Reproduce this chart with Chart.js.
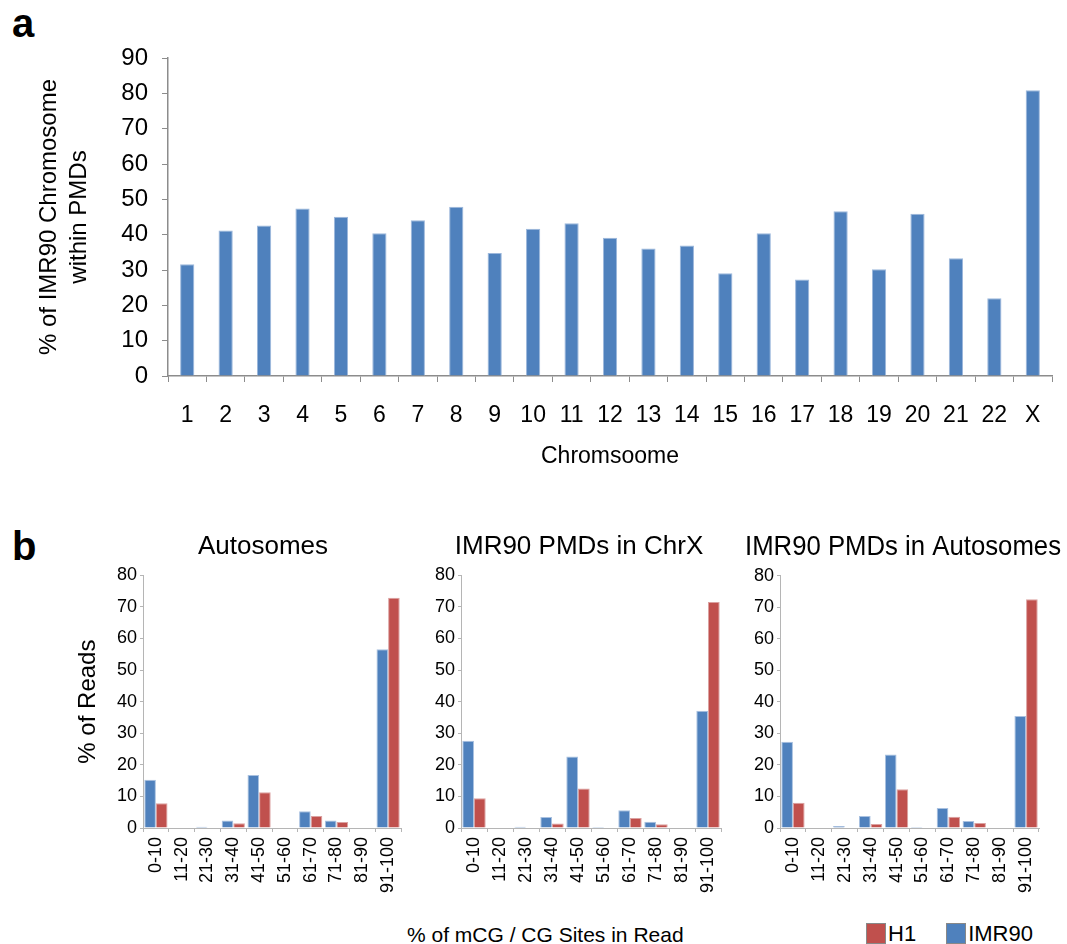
<!DOCTYPE html>
<html>
<head>
<meta charset="utf-8">
<script src="https://cdn.jsdelivr.net/npm/chart.js@4.4.1/dist/chart.umd.min.js"></script>
<style>
    body { margin: 0; background: #fff; width: 1067px; height: 944px; position: relative; overflow: hidden; font-family: "Liberation Sans", Arial, sans-serif; color: #000; }
    .box { position: absolute; }
    .panel { position: absolute; font-weight: bold; font-size: 40px; line-height: 40px; }
    .xtitle { position: absolute; left: 407px; top: 923px; font-size: 21px; line-height: 24px; }
    .legend { position: absolute; left: 866px; top: 922px; font-size: 22px; line-height: 23px; display: flex; align-items: center; }
    .swatch { width: 20px; height: 21px; margin-right: 2px; box-sizing: border-box; border: 1px solid #888; }
</style>
</head>
<body>

<div class="panel" style="left:12px; top:3px">a</div>
<div class="panel" style="left:12px; top:526px">b</div>

<div class="box" style="left:0; top:0; width:1067px; height:480px"><canvas id="chrChart"></canvas></div>
<div class="box" style="left:60px; top:520px; width:406px; height:380px"><canvas id="autoChart"></canvas></div>
<div class="box" style="left:410px; top:520px; width:338px; height:380px"><canvas id="chrxChart"></canvas></div>
<div class="box" style="left:745px; top:520px; width:316px; height:380px"><canvas id="pmdAutoChart"></canvas></div>

<div class="xtitle">% of mCG / CG Sites in Read</div>
<div class="legend">
    <span class="swatch" style="background:#C0504D"></span><span style="margin-right:30px">H1</span>
    <span class="swatch" style="background:#4F81BD"></span><span>IMR90</span>
</div>

<script>
const chromosomes = ['1', '2', '3', '4', '5', '6', '7', '8', '9', '10', '11', '12', '13', '14', '15', '16', '17', '18', '19', '20', '21', '22', 'X']
const pmdPercent = [31.6, 41.2, 42.6, 47.4, 45.1, 40.4, 44.1, 47.9, 34.8, 41.7, 43.2, 39.1, 36.1, 36.9, 29.1, 40.4, 27.3, 46.6, 30.2, 45.9, 33.3, 22.0, 80.9]

const bins = ['0-10', '11-20', '21-30', '31-40', '41-50', '51-60', '61-70', '71-80', '81-90', '91-100']
const autoIMR90 = [15.3, 0, 0.4, 2.4, 16.8, 0, 5.3, 2.4, 0, 56.6]
const autoH1 = [7.8, 0, 0, 1.5, 11.3, 0, 3.8, 1.9, 0, 72.9]
const chrxIMR90 = [27.6, 0, 0.4, 3.5, 22.6, 0.3, 5.6, 2.0, 0, 37.1]
const chrxH1 = [9.4, 0, 0, 1.4, 12.5, 0, 3.2, 1.2, 0, 71.5]
const pmdAutoIMR90 = [27.3, 0, 0.6, 3.8, 23.3, 0.3, 6.3, 2.2, 0, 35.5]
const pmdAutoH1 = [8.0, 0, 0, 1.3, 12.3, 0, 3.6, 1.6, 0, 72.5]

const blue = '#4F81BD'
const red = '#C0504D'
const axisGray = '#8c8c8c'
const fontFamily = '"Liberation Sans", Arial, Helvetica, sans-serif'

Chart.defaults.font.family = fontFamily
Chart.defaults.color = '#000'
Chart.defaults.animation = false

// panel a
const chrCtx = document.getElementById('chrChart').getContext('2d')
const chrChart = new Chart(chrCtx, {
    type: 'bar',
    data: {
        labels: chromosomes,
        datasets: [{
            label: '% within PMDs',
            data: pmdPercent,
            backgroundColor: blue,
            borderColor: '#9db8dc',
            borderWidth: 1,
            categoryPercentage: 1,
            barPercentage: 0.37
        }]
    },
    options: {
        responsive: true,
        maintainAspectRatio: false,
        layout: { padding: { top: 58, right: 15, left: 0, bottom: 0 } },
        plugins: { legend: { display: false }, tooltip: { enabled: false } },
        scales: {
            x: {
                afterFit: (scale) => { scale.height = 104 },
                grid: { display: true, offset: true, drawOnChartArea: false, tickLength: 6, color: axisGray },
                border: { color: axisGray, width: 1.5 },
                ticks: { font: { size: 23 }, padding: 20, maxRotation: 0, autoSkip: false },
                title: { display: true, text: 'Chromsoome', font: { size: 23 }, padding: { top: 0, bottom: 10 } }
            },
            y: {
                min: 0,
                max: 90,
                afterFit: (scale) => { scale.width = 168 },
                grid: { display: true, drawOnChartArea: false, tickLength: 6, color: axisGray },
                border: { color: axisGray, width: 1.5 },
                ticks: { stepSize: 10, font: { size: 24 }, padding: 14 },
                title: {
                    display: true,
                    text: ['% of IMR90 Chromosome', 'within PMDs'],
                    font: { size: 24, lineHeight: 1.25 },
                    padding: { top: 34, bottom: 0 }
                }
            }
        }
    }
})

// panel b, one chart per group
// yWidth / rightWidth set the plot box inside the canvas so the title lands where it should
function makeHistChart(id, titleText, titleSize, titlePad, imrData, h1Data, yWidth, rightWidth, yTitle) {
    const ctx = document.getElementById(id).getContext('2d')
    return new Chart(ctx, {
        type: 'bar',
        data: {
            labels: bins,
            datasets: [{
                label: 'IMR90',
                data: imrData,
                backgroundColor: blue,
                borderColor: '#a9c1e0',
                borderWidth: 1,
                categoryPercentage: 0.9,
                barPercentage: 1
            }, {
                label: 'H1',
                data: h1Data,
                backgroundColor: red,
                borderColor: '#dba1a0',
                borderWidth: 1,
                categoryPercentage: 0.9,
                barPercentage: 1
            }]
        },
        options: {
            responsive: true,
            maintainAspectRatio: false,
            layout: { padding: 0 },
            plugins: {
                legend: { display: false },
                tooltip: { enabled: false },
                title: {
                    display: true,
                    text: titleText,
                    font: { size: titleSize, weight: 'normal' },
                    color: '#000',
                    padding: titlePad
                }
            },
            scales: {
                x: {
                    afterFit: (scale) => { scale.height = 72 },
                    grid: { display: true, offset: true, drawOnChartArea: false, tickLength: 4, color: '#b5b5b5' },
                    border: { color: '#b5b5b5' },
                    ticks: { font: { size: 18 }, padding: 5, minRotation: 90, maxRotation: 90, autoSkip: false }
                },
                y: {
                    min: 0,
                    max: 80,
                    afterFit: (scale) => { scale.width = yWidth },
                    grid: { display: true, drawOnChartArea: false, tickLength: 3, color: '#b5b5b5' },
                    border: { color: '#b5b5b5' },
                    ticks: { stepSize: 10, font: { size: 18 }, padding: 3 },
                    title: yTitle
                },
                spacer: {
                    position: 'right',
                    afterFit: (scale) => { scale.width = rightWidth },
                    grid: { display: false },
                    border: { display: false },
                    ticks: { display: false }
                }
            }
        }
    })
}

const autoChart = makeHistChart('autoChart', 'Autosomes', 26, { top: 11, bottom: 13 }, autoIMR90, autoH1, 83, 65, {
    display: true,
    text: '% of Reads',
    font: { size: 24 },
    padding: { top: 14, bottom: 0 }
})
const chrxChart = makeHistChart('chrxChart', 'IMR90 PMDs in ChrX', 26, { top: 11, bottom: 13 }, chrxIMR90, chrxH1, 51, 27, { display: false })
const pmdAutoChart = makeHistChart('pmdAutoChart', 'IMR90 PMDs in Autosomes', 28, { top: 10, bottom: 12 }, pmdAutoIMR90, pmdAutoH1, 35, 22, { display: false })
</script>
</body>
</html>
